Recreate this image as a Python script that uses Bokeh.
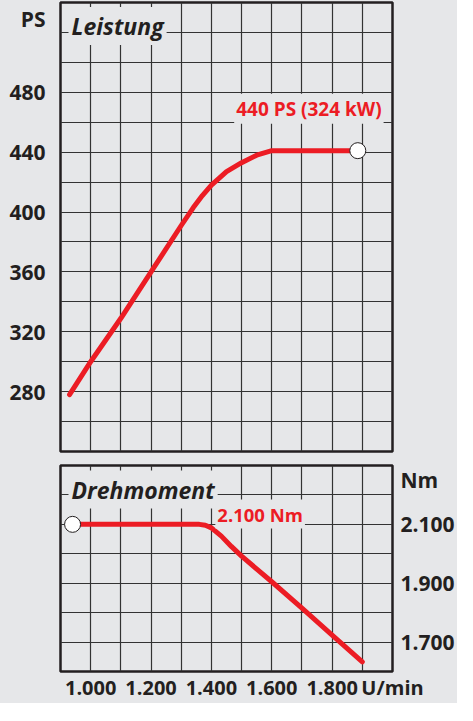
from bokeh.plotting import figure
from bokeh.models import FixedTicker, Grid, Label, Range1d
from bokeh.layouts import column
from bokeh.embed import file_html
from bokeh.resources import INLINE

# ---------------- data ----------------
rpm_grid = [900, 1000, 1100, 1200, 1300, 1400, 1500, 1600, 1700, 1800, 1900, 2000]
rpm_ticks = [1000, 1200, 1400, 1600, 1800, 2000]
rpm_tick_labels = ["1.000", "1.200", "1.400", "1.600", "1.800", "U/min"]

power_rpm = [930, 1000, 1100, 1200, 1300, 1340, 1370, 1400, 1450, 1500, 1550, 1600, 1885]
power_ps = [278, 300, 329, 360, 391, 403, 411, 418, 427, 433, 438, 441, 441]
ps_grid = [240, 260, 280, 300, 320, 340, 360, 380, 400, 420, 440, 460, 480, 500, 520, 540]
ps_ticks = [280, 320, 360, 400, 440, 480, 529]
ps_tick_labels = ["280", "320", "360", "400", "440", "480", "PS"]

torque_rpm = [940, 1360, 1380, 1400, 1433, 1466, 1500, 1600, 1700, 1800, 1900]
torque_nm = [2100, 2100, 2097, 2088, 2060, 2025, 1992, 1905, 1815, 1724, 1633]
nm_grid = [1600, 1700, 1800, 1900, 2000, 2100, 2200, 2300]
nm_ticks = [1700, 1900, 2100, 2250]
nm_tick_labels = ["1.700", "1.900", "2.100", "Nm"]

peak_power_rpm = [1885]
peak_power_ps = [441]
peak_torque_rpm = [940]
peak_torque_nm = [2100]

power_title = "Leistung"
torque_title = "Drehmoment"
power_note = "440 PS (324 kW)"
torque_note = "2.100 Nm"

# ---------------- style ----------------
BG = "#e6e7e9"
INK = "#231f20"
RED = "#ec1c24"
FONT = "Open Sans"


def base_fig(height, yr, x_loc, y_loc, top, bottom):
    p = figure(width=457, height=height, x_range=Range1d(900, 2000), y_range=yr,
               x_axis_location=x_loc, y_axis_location=y_loc,
               output_backend="svg", toolbar_location=None,
               min_border_left=60, min_border_right=63,
               min_border_top=top, min_border_bottom=bottom,
               background_fill_color=BG, border_fill_color=BG,
               outline_line_color=INK, outline_line_width=2.5)
    p.grid.visible = False
    return p


def add_grid(p, xs, ys):
    p.add_layout(Grid(dimension=0, ticker=FixedTicker(ticks=xs),
                      grid_line_color="#333333", grid_line_width=1.2))
    p.add_layout(Grid(dimension=1, ticker=FixedTicker(ticks=ys),
                      grid_line_color="#333333", grid_line_width=1.2))


def style_axis(ax, ticks, labels, standoff, size="21px"):
    ax.ticker = FixedTicker(ticks=ticks)
    ax.major_label_overrides = {t: l for t, l in zip(ticks, labels)}
    ax.axis_line_color = None
    ax.major_tick_line_color = None
    ax.minor_tick_line_color = None
    ax.major_tick_out = 0
    ax.major_tick_in = 0
    ax.minor_tick_out = 0
    ax.minor_tick_in = 0
    ax.major_label_standoff = standoff
    ax.major_label_text_font = FONT
    ax.major_label_text_font_style = "bold"
    ax.major_label_text_font_size = size
    ax.major_label_text_color = INK


# ---------------- Leistung ----------------
p1 = base_fig(457, Range1d(240, 540), None, "left", 2, 6)
add_grid(p1, rpm_grid, ps_grid)
style_axis(p1.yaxis[0], ps_ticks, ps_tick_labels, 15)

p1.line(power_rpm, power_ps, line_color=RED, line_width=5,
        line_cap="round", line_join="round")
p1.scatter(peak_power_rpm, peak_power_ps, size=16, fill_color="white",
           line_color=INK, line_width=1)

p1.add_layout(Label(x=900, y=540, x_offset=8, y_offset=-23.5, text=power_title,
                    text_font=FONT, text_font_style="bold italic", text_font_size="23px",
                    text_color=INK, text_baseline="alphabetic",
                    background_fill_color=BG, padding=3))
p1.add_layout(Label(x=1723, y=469, text=power_note, text_align="center",
                    text_baseline="alphabetic", text_font=FONT, text_font_style="bold",
                    text_font_size="19px", text_color=RED,
                    background_fill_color=BG, padding=2))

# ---------------- Drehmoment ----------------
p2 = base_fig(246, Range1d(1600, 2300), "below", "right", 8, 28)
add_grid(p2, rpm_grid, nm_grid)
style_axis(p2.yaxis[0], nm_ticks, nm_tick_labels, 8)
style_axis(p2.xaxis[0], rpm_ticks, rpm_tick_labels, 2, "20px")

p2.line(torque_rpm, torque_nm, line_color=RED, line_width=5,
        line_cap="round", line_join="round")
p2.scatter(peak_torque_rpm, peak_torque_nm, size=16, fill_color="white",
           line_color=INK, line_width=1)

p2.add_layout(Label(x=900, y=2300, x_offset=8, y_offset=-24, text=torque_title,
                    text_font=FONT, text_font_style="bold italic", text_font_size="23px",
                    text_color=INK, text_baseline="alphabetic",
                    background_fill_color=BG, padding=3))
p2.add_layout(Label(x=1413, y=2135, text=torque_note, text_align="left",
                    text_baseline="alphabetic", text_font=FONT, text_font_style="bold",
                    text_font_size="18.5px", text_color=RED,
                    background_fill_color=BG, padding=2))

layout = column(p1, p2, styles={"background-color": BG})
open("out.html", "w").write(file_html(layout, INLINE))
